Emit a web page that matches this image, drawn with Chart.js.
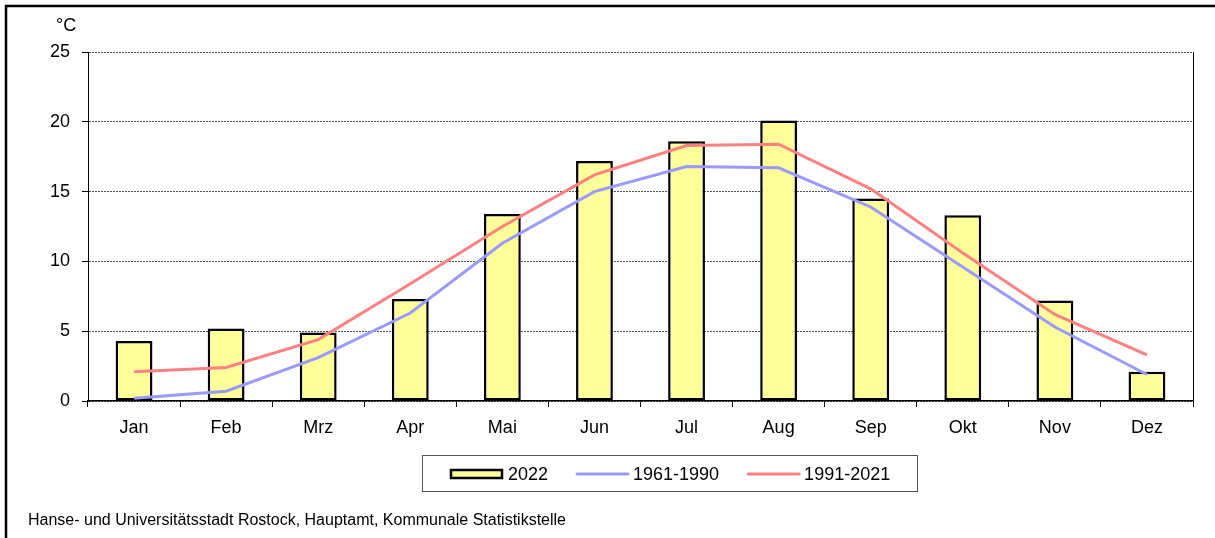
<!DOCTYPE html>
<html>
<head>
<meta charset="utf-8">
<script src="https://cdn.jsdelivr.net/npm/chart.js@4/dist/chart.umd.min.js"></script>
<style>
  html, body { margin: 0; padding: 0; background: #fff; }
  #wrap { position: relative; width: 1215px; height: 538px; }
</style>
</head>
<body>
<div id="wrap"><canvas id="chartTemp"></canvas></div>
<script>
const months = ['Jan', 'Feb', 'Mrz', 'Apr', 'Mai', 'Jun', 'Jul', 'Aug', 'Sep', 'Okt', 'Nov', 'Dez'];
const temp2022 = [4.3, 5.2, 4.9, 7.3, 13.4, 17.2, 18.6, 20.1, 14.5, 13.3, 7.2, 2.1];
const mean6190 = [0.2, 0.7, 3.1, 6.3, 11.3, 15.0, 16.8, 16.7, 13.9, 9.6, 5.3, 1.9];
const mean9121 = [2.1, 2.4, 4.4, 8.4, 12.5, 16.2, 18.3, 18.4, 15.2, 10.6, 6.2, 3.3];
const yTicks = [0, 5, 10, 15, 20, 25];

const FONT = '"Liberation Sans", Arial, sans-serif';

// frame, unit label, boxed legend and source line
const extras = {
  id: 'extras',
  afterDraw(chart) {
    const ctx = chart.ctx;
    ctx.save();
    // outer frame (only left/top visible in the picture)
    ctx.strokeStyle = '#000';
    ctx.lineWidth = 2.5;
    ctx.strokeRect(6, 6, 1240, 560);

    ctx.fillStyle = '#000';
    ctx.font = '18px ' + FONT;
    ctx.textBaseline = 'middle';
    ctx.fillText('°C', 56, 26);

    // legend box
    ctx.strokeStyle = '#555';
    ctx.lineWidth = 1;
    ctx.strokeRect(422.5, 455.5, 495, 36);

    let x = 451;
    const y = 474;
    chart.data.datasets.forEach(ds => {
      if (ds.type === 'bar') {
        ctx.fillStyle = ds.backgroundColor;
        ctx.fillRect(x, 470, 51, 8);
        ctx.strokeStyle = ds.borderColor;
        ctx.lineWidth = 2.5;
        ctx.strokeRect(x, 470, 51, 8);
      } else {
        ctx.strokeStyle = ds.borderColor;
        ctx.lineWidth = 3;
        ctx.lineCap = 'round';
        ctx.beginPath();
        ctx.moveTo(x + 1, y);
        ctx.lineTo(x + 52, y);
        ctx.stroke();
      }
      ctx.fillStyle = '#000';
      ctx.fillText(ds.label, x + 57, y + 1);
      x += 57 + ctx.measureText(ds.label).width + 28;
    });

    ctx.font = '16px ' + FONT;
    ctx.fillText('Hanse- und Universitätsstadt Rostock, Hauptamt, Kommunale Statistikstelle', 28, 521);
    ctx.restore();
  }
};

const ctx = document.getElementById('chartTemp').getContext('2d');
new Chart(ctx, {
  data: {
    labels: months,
    datasets: [
      {
        type: 'bar',
        label: '2022',
        data: temp2022,
        backgroundColor: '#FFFF99',
        borderColor: '#000',
        borderWidth: 2.5,
        borderSkipped: false,
        barPercentage: 0.4,
        categoryPercentage: 1,
        order: 2
      },
      {
        type: 'line',
        label: '1961-1990',
        data: mean6190,
        borderColor: '#9999FF',
        borderWidth: 3,
        pointRadius: 0,
        tension: 0,
        order: 1
      },
      {
        type: 'line',
        label: '1991-2021',
        data: mean9121,
        borderColor: '#FF8080',
        borderWidth: 3,
        pointRadius: 0,
        tension: 0,
        order: 0
      }
    ]
  },
  options: {
    responsive: true,
    maintainAspectRatio: false,
    animation: false,
    layout: { padding: { top: 52, left: 0, right: 0, bottom: 0 } },
    plugins: {
      legend: { display: false },
      tooltip: { enabled: false }
    },
    scales: {
      x: {
        offset: true,
        grid: { offset: true, drawOnChartArea: false, tickLength: 6, tickColor: '#000' },
        border: { color: '#000', width: 1.5 },
        ticks: { color: '#000', font: { family: FONT, size: 18 }, padding: 10, maxRotation: 0 },
        afterFit(scale) { scale.height = 137; }
      },
      y: {
        min: 0,
        max: 25,
        afterBuildTicks(scale) { scale.ticks = yTicks.map(v => ({ value: v })); },
        grid: { color: '#555', lineWidth: 1, tickLength: 6, tickColor: '#000' },
        border: { color: '#000', width: 1, dash: [2, 1] },
        ticks: { color: '#000', font: { family: FONT, size: 18 }, padding: 12 },
        afterFit(scale) { scale.width = 88; }
      },
      y2: {
        position: 'right',
        min: 0,
        max: 25,
        grid: { drawOnChartArea: false, drawTicks: false },
        border: { color: '#000', width: 1 },
        ticks: { display: false },
        afterFit(scale) { scale.width = 22; }
      }
    }
  },
  plugins: [extras]
});
</script>
</body>
</html>
